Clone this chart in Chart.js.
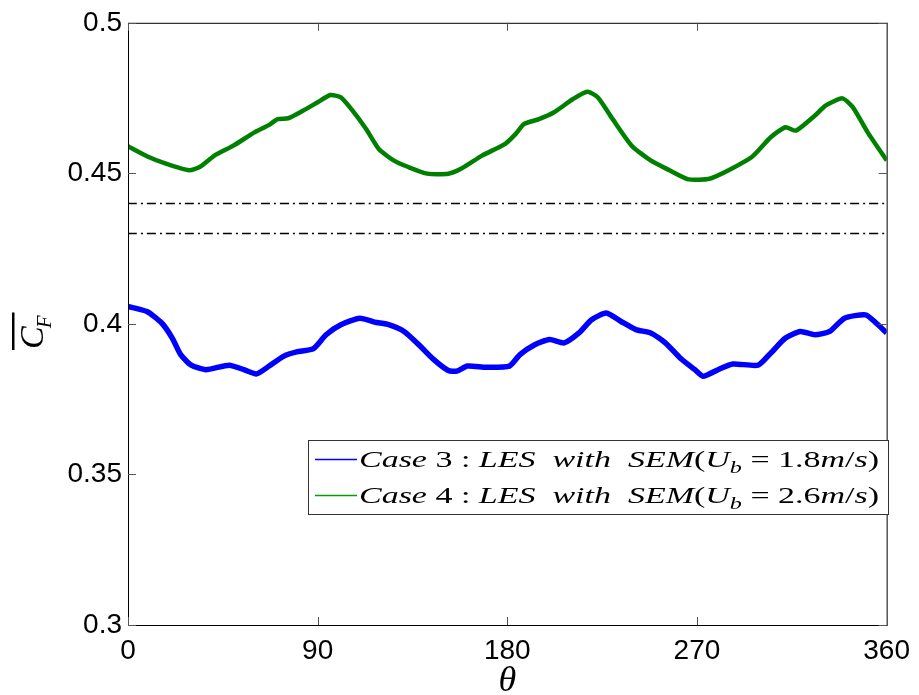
<!DOCTYPE html>
<html>
<head>
<meta charset="utf-8">
<script src="https://cdn.jsdelivr.net/npm/chart.js@4.4.0/dist/chart.umd.min.js"></script>
<style>
  html, body { margin: 0; padding: 0; background: #fff; }
  canvas { display: block; }
</style>
</head>
<body>
<canvas id="myChart" width="919" height="695"></canvas>
<script>
// values (theta in degrees, mean force coefficient)
var thetaCase3 = [0, 9, 16, 21, 25, 30, 37, 48, 55, 61, 67, 74, 80, 88, 94, 101, 110, 117, 124, 131,
  138, 145, 152, 156, 161, 170, 181, 186, 193, 200, 207, 214, 220, 227, 234, 241, 248, 255, 262, 269,
  273, 280, 287, 299, 305, 312, 319, 326, 333, 340, 350, 355, 360];
var cfCase3 = [0.4058, 0.4041, 0.4003, 0.3953, 0.3898, 0.3863, 0.3848, 0.3863, 0.3848, 0.3834,
  0.386, 0.3893, 0.3907, 0.3918, 0.3964, 0.3997, 0.4019, 0.4006, 0.3997, 0.3975,
  0.3931, 0.3882, 0.3845, 0.3843, 0.386, 0.3856, 0.386, 0.3898, 0.3931, 0.3948,
  0.3937, 0.397, 0.4014, 0.4036, 0.4008, 0.3981, 0.397, 0.3937, 0.3887, 0.3848,
  0.3826, 0.3848, 0.3867, 0.3863, 0.3903, 0.3953, 0.3975, 0.3964, 0.3975, 0.4019,
  0.403, 0.4003, 0.397];

var thetaCase4 = [0, 9, 18, 29, 34, 41, 50, 60, 67, 71, 76, 83, 90, 96, 101, 106, 113, 119, 126, 133,
  142, 152, 158, 168, 179, 184, 188, 195, 202, 211, 218, 223, 230, 239, 248, 257, 266, 276, 285, 296,
  305, 312, 317, 326, 331, 339, 344, 351, 360];
var cfCase4 = [0.459, 0.4557, 0.4532, 0.451, 0.4521, 0.4559, 0.4592, 0.4636, 0.4661, 0.468,
  0.4683, 0.4708, 0.4736, 0.476, 0.4752, 0.4713, 0.4647, 0.4581, 0.4543, 0.4521,
  0.4499, 0.4499, 0.4515, 0.4559, 0.4598, 0.4631, 0.4664, 0.468, 0.4702, 0.4746,
  0.4771, 0.4752, 0.468, 0.4592, 0.4543, 0.451, 0.448, 0.4482, 0.451, 0.4554,
  0.462, 0.4653, 0.4642, 0.4692, 0.4725, 0.4749, 0.4719, 0.4636, 0.4543];

// horizontal dash-dot reference levels
var refLevels = [0.44, 0.43];

var xTicks = [0, 90, 180, 270, 360];
var yTicks = [0.3, 0.35, 0.4, 0.45, 0.5];

// legend text, split into [text, style]: 0 upright, 1 italic, 2 italic subscript
var legendCase3 = [['Case', 1], [' 3 : ', 0], ['LES', 1], ['  with  ', 1], ['SEM', 1], ['(', 0], ['U', 1], ['b', 2],
  [' = 1.8', 0], ['m', 1], ['/', 0], ['s', 1], [')', 0]];
var legendCase4 = [['Case', 1], [' 4 : ', 0], ['LES', 1], ['  with  ', 1], ['SEM', 1], ['(', 0], ['U', 1], ['b', 2],
  [' = 2.6', 0], ['m', 1], ['/', 0], ['s', 1], [')', 0]];

function toPoints(xs, ys) {
  return xs.map(function (x, i) { return { x: x, y: ys[i] }; });
}

var datasets = [
  { label: 'Case 3', data: toPoints(thetaCase3, cfCase3), borderColor: '#0000ff', borderWidth: 5.5 },
  { label: 'Case 4', data: toPoints(thetaCase4, cfCase4), borderColor: '#008000', borderWidth: 4.5 }
];
refLevels.forEach(function (lv) {
  datasets.push({
    label: 'ref ' + lv,
    data: [{ x: xTicks[0], y: lv }, { x: xTicks[xTicks.length - 1], y: lv }],
    borderColor: '#000', borderWidth: 1.5, borderDash: [9, 4, 2, 4]
  });
});

var serif = '"Liberation Serif", "DejaVu Serif", serif';
var sans = '"Liberation Sans", Arial, sans-serif';

function setFont(ctx, style, size) {
  if (style === 0) ctx.font = size + 'px ' + serif;
  else if (style === 1) ctx.font = 'italic ' + size + 'px ' + serif;
  else ctx.font = 'italic ' + Math.round(size * 0.7) + 'px ' + serif;
}

function richWidth(ctx, segs, size) {
  var w = 0;
  segs.forEach(function (s) { setFont(ctx, s[1], size); w += ctx.measureText(s[0]).width; });
  return w;
}

// draws segments, stretched horizontally to fill targetW
function drawRich(ctx, segs, x, y, size, targetW) {
  var sx = targetW / richWidth(ctx, segs, size);
  ctx.save();
  ctx.translate(x, y);
  ctx.scale(sx, 1);
  var cx = 0;
  segs.forEach(function (s) {
    setFont(ctx, s[1], size);
    var dy = s[1] === 2 ? size * 0.25 : 0;
    ctx.fillText(s[0], cx, dy);
    cx += ctx.measureText(s[0]).width;
  });
  ctx.restore();
}

var decor = {
  id: 'decor',
  afterDraw: function (chart) {
    var ctx = chart.ctx, a = chart.chartArea;
    var xs = chart.scales.x, ys = chart.scales.y;
    ctx.save();
    // box
    ctx.strokeStyle = '#000';
    ctx.lineWidth = 1;
    ctx.strokeRect(a.left + 0.5, a.top + 0.5, a.right - a.left, a.bottom - a.top);
    // inward tick marks on all four sides
    ctx.strokeStyle = '#555';
    ctx.beginPath();
    xTicks.forEach(function (v) {
      var px = Math.round(xs.getPixelForValue(v)) + 0.5;
      ctx.moveTo(px, a.bottom); ctx.lineTo(px, a.bottom - 8);
      ctx.moveTo(px, a.top); ctx.lineTo(px, a.top + 8);
    });
    yTicks.forEach(function (v) {
      var py = Math.round(ys.getPixelForValue(v)) + 0.5;
      ctx.moveTo(a.left, py); ctx.lineTo(a.left + 8, py);
      ctx.moveTo(a.right, py); ctx.lineTo(a.right - 8, py);
    });
    ctx.stroke();

    // legend
    var lx = 308, ly = 440, lw = 580, lh = 74;
    ctx.fillStyle = '#fff';
    ctx.fillRect(lx, ly, lw, lh);
    ctx.strokeStyle = '#333';
    ctx.strokeRect(lx + 0.5, ly + 0.5, lw, lh);
    ctx.textAlign = 'left';
    ctx.textBaseline = 'alphabetic';
    var rows = [[legendCase3, '#0000ff', 459], [legendCase4, '#00a000', 495]];
    rows.forEach(function (r) {
      ctx.strokeStyle = r[1];
      ctx.lineWidth = 1.3;
      ctx.beginPath();
      ctx.moveTo(315, r[2] + 0.5); ctx.lineTo(357, r[2] + 0.5);
      ctx.stroke();
      ctx.fillStyle = '#000';
      drawRich(ctx, r[0], 359, r[2] + 8, 24, 520);
    });

    // x axis title
    ctx.fillStyle = '#000';
    ctx.font = 'italic 36px ' + serif;
    ctx.textAlign = 'center';
    ctx.fillText('\u03B8', (a.left + a.right) / 2, 691);

    // y axis title: overline C_F, rotated
    ctx.translate(43, 349);
    ctx.rotate(-Math.PI / 2);
    ctx.textAlign = 'left';
    ctx.font = 'italic 34px ' + serif;
    ctx.fillText('C', 0, 0);
    var cw = ctx.measureText('C').width;
    ctx.font = 'italic 21px ' + serif;
    ctx.fillText('F', cw - 2, 8);
    var fw = ctx.measureText('F').width;
    ctx.fillRect(-1, -31, cw + fw + 2, 2.5);
    ctx.restore();
  }
};

new Chart(document.getElementById('myChart'), {
  type: 'line',
  data: { datasets: datasets },
  options: {
    responsive: false,
    animation: false,
    events: [],
    layout: { padding: { top: 20, right: 29, left: 0, bottom: 0 } },
    elements: { point: { radius: 0 }, line: { tension: 0.2, fill: false, borderJoinStyle: 'round' } },
    plugins: { legend: { display: false }, tooltip: { enabled: false } },
    scales: {
      x: {
        type: 'linear', min: 0, max: 360,
        afterBuildTicks: function (s) { s.ticks = xTicks.map(function (v) { return { value: v }; }); },
        afterFit: function (s) { s.height = 70; },
        grid: { display: false, drawTicks: false },
        border: { display: false },
        ticks: { padding: 9, color: '#000', font: { family: sans, size: 28 }, maxRotation: 0 }
      },
      y: {
        min: 0.3, max: 0.5,
        afterBuildTicks: function (s) { s.ticks = yTicks.map(function (v) { return { value: v }; }); },
        afterFit: function (s) { s.width = 128; },
        grid: { display: false, drawTicks: false },
        border: { display: false },
        ticks: { padding: 6, color: '#000', font: { family: sans, size: 28 },
          callback: function (v) { return String(+v.toFixed(2)); } }
      }
    }
  },
  plugins: [decor]
});
</script>
</body>
</html>
